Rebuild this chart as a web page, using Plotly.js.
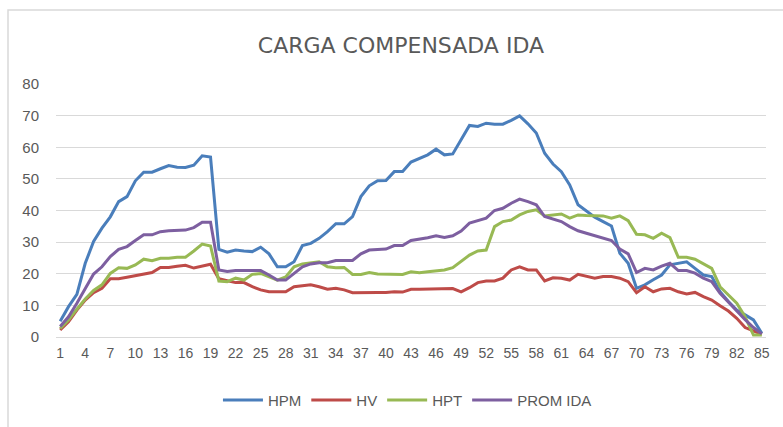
<!DOCTYPE html>
<html><head><meta charset="utf-8">
<script src="https://cdn.plot.ly/plotly-3.0.1.min.js"></script>
<style>html,body{margin:0;padding:0;background:#fff}#chart{width:783px;height:427px}</style>
</head><body><div id="chart"></div>
<script>
const xs = Array.from({length:85},(_,i)=>i+1);
const hpm = [5,9.6,13.5,23.3,30.2,34.4,38,42.8,44.4,49.4,52.1,52.1,53.2,54.2,53.7,53.6,54.3,57.3,56.9,27.7,26.8,27.5,27.2,27,28.4,26.3,22.2,22.2,23.8,28.9,29.6,31.2,33.3,35.8,35.8,38.1,44.4,47.8,49.4,49.5,52.3,52.3,55.3,56.5,57.6,59.4,57.6,57.9,62.3,66.9,66.6,67.6,67.3,67.3,68.5,69.9,67.4,64.5,58.1,54.7,52.3,48.1,41.8,39.7,37.9,36.5,35.1,26.5,23.3,15.4,16.5,18.1,19.6,22.8,23.3,23.8,21.7,19.6,19.1,14.3,11.2,8.5,7,5.4,1.2];
const hv = [2.2,4.8,8.5,11.7,14,15.4,18.4,18.4,18.9,19.4,19.9,20.4,22,22,22.4,22.7,21.8,22.5,23,18.4,17.7,17.2,17.2,15.9,14.9,14.3,14.3,14.3,15.9,16.1,16.5,15.9,15.1,15.4,14.9,14,14.1,14.1,14.1,14.1,14.3,14.2,15.1,15.1,15.2,15.3,15.3,15.3,14.3,15.6,17.2,17.7,17.7,18.6,21.2,22.2,21.2,21.2,17.7,18.7,18.6,18,19.8,19.3,18.6,19.1,19.1,18.6,17.5,14,15.9,14.3,15.2,15.4,14.3,13.6,14.1,12.8,11.7,9.9,8.2,5.9,3,1.9,0.8];
const hpt = [2.7,5.4,8.8,12,14.7,16.5,20.1,21.9,21.7,22.8,24.6,24.1,24.9,24.9,25.2,25.2,27.2,29.4,28.8,17.7,17.5,18.6,18,19.8,20.1,19.1,18,19,22.2,23.1,23.5,23.8,22.2,21.9,22,19.8,19.8,20.4,19.9,19.9,19.9,19.8,20.6,20.3,20.6,20.9,21.2,21.9,23.8,25.9,27.2,27.5,34.9,36.5,37,38.6,39.7,40.2,38.3,38.6,38.9,37.6,38.6,38.4,38.3,38.3,37.6,38.3,36.8,32.5,32.3,31.2,32.8,31.4,25.2,25.2,24.6,23.1,21.7,15.9,13.3,10.7,6.4,0.6,0.6];
const prom = [3.3,6.4,10.7,15.4,19.9,22.2,25.4,27.7,28.6,30.5,32.3,32.3,33.3,33.6,33.8,33.8,34.6,36.3,36.3,21.2,20.7,21,21,20.9,21,19.6,18,18,20.1,22.2,23.1,23.5,23.5,24.2,24.2,24.2,26.3,27.5,27.7,27.8,28.9,28.9,30.5,30.9,31.4,32,31.5,32,33.5,36,36.8,37.6,40,40.7,42.3,43.6,42.8,41.8,38.1,37.2,36.5,34.9,33.6,32.8,32.1,31.4,30.5,27.8,26.3,20.4,21.7,21.2,22.4,23.3,21,21,20.2,18.6,17.5,13.8,11,8.5,5.5,3,1];
const names = ['HPM','HV','HPT','PROM IDA'];
const colors = ['#4a7ebb','#be4b48','#98b954','#7d5fa0'];
const series = [hpm,hv,hpt,prom];
const tickVals = [1,4,7,10,13,16,19,22,25,28,31,34,37,40,43,46,49,52,55,58,61,64,67,70,73,76,79,82,85];
const traces = series.map((s,i)=>({x:xs,y:s,name:names[i],type:'scatter',mode:'lines',line:{color:colors[i],width:3}}));
const fam = '"Liberation Sans", Arial, sans-serif';
Plotly.newPlot('chart',traces,{
  width:783,height:427,
  paper_bgcolor:'#fff',plot_bgcolor:'#fff',
  margin:{l:56,r:17,t:84,b:90,autoexpand:false},
  title:{text:'CARGA COMPENSADA IDA',font:{family:'"DejaVu Sans", sans-serif',color:'#595959',size:22},x:0.512,xanchor:'center',y:0.895,yanchor:'middle'},
  xaxis:{range:[0.5,85.5],automargin:false,tickvals:tickVals,ticktext:tickVals.map(String),showgrid:false,zeroline:false,showline:false,ticks:'',ticklabelstandoff:6,tickfont:{family:fam,color:'#595959',size:14}},
  yaxis:{range:[0,80],automargin:false,dtick:10,showgrid:true,gridcolor:'#d9d9d9',gridwidth:1,zeroline:true,zerolinecolor:'#d9d9d9',zerolinewidth:1,ticks:'',ticklabelstandoff:16,tickfont:{family:fam,color:'#595959',size:15}},
  shapes:[{type:'rect',xref:'paper',yref:'paper',x0:-0.0676,x1:1.3,y0:-0.5,y1:1.2925,line:{color:'#d9d9d9',width:1.5},fillcolor:'rgba(0,0,0,0)',layer:'below'}],
  showlegend:true,
  legend:{orientation:'h',x:0.495,xanchor:'center',y:-0.185,yanchor:'top',font:{family:fam,color:'#595959',size:15},itemwidth:40,tracegroupgap:0}
},{displayModeBar:false,staticPlot:true});
</script></body></html>
